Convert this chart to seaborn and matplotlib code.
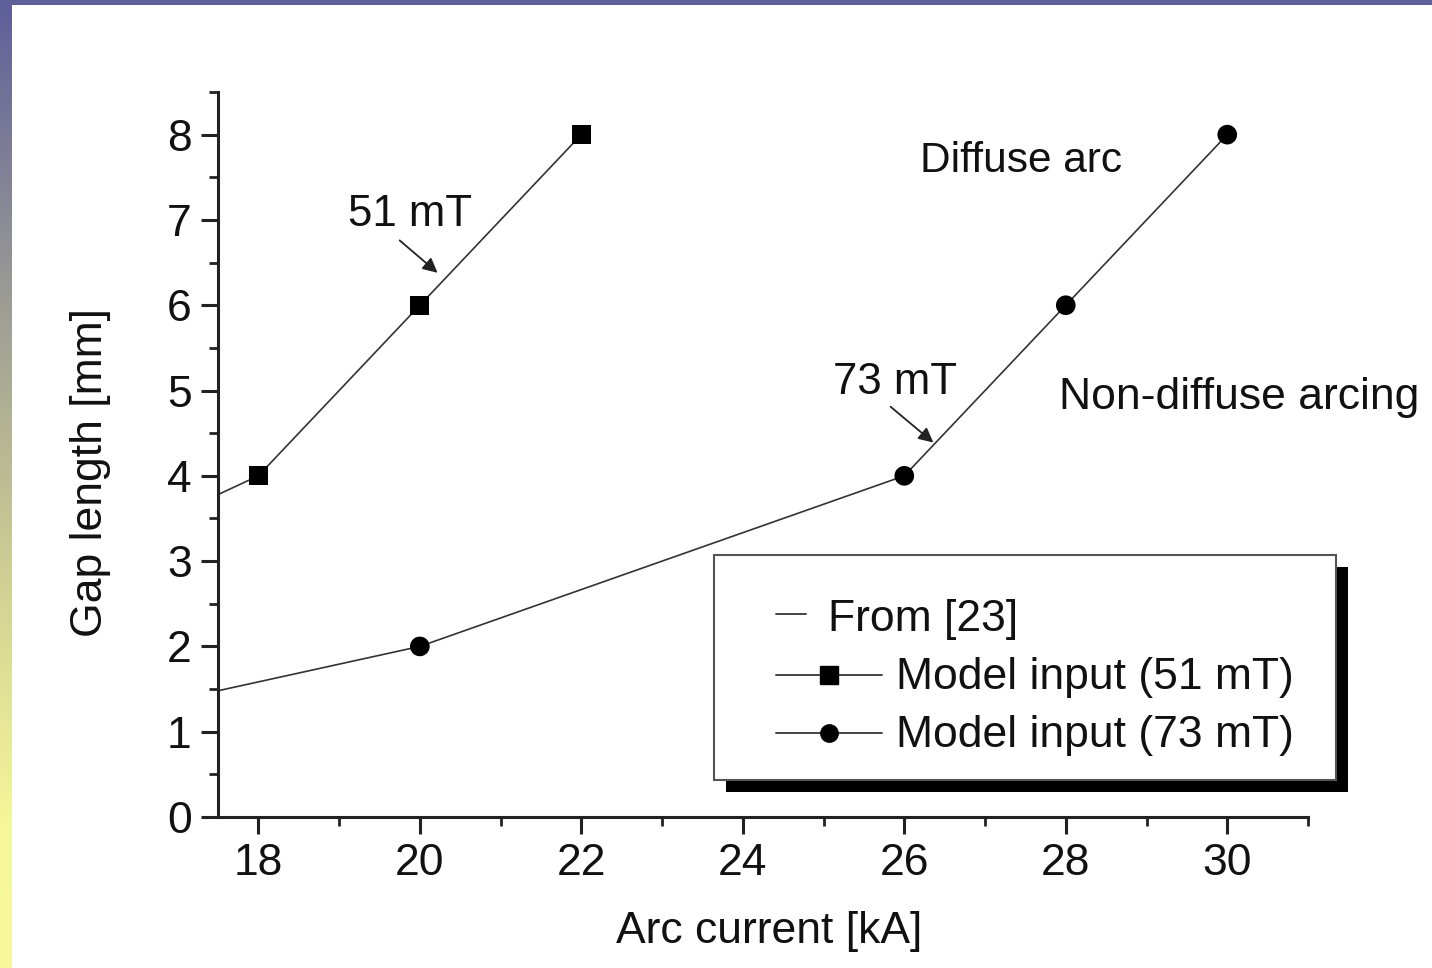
import numpy as np
import pandas as pd
import matplotlib
matplotlib.use("Agg")
import matplotlib.pyplot as plt
from matplotlib.patches import Rectangle
from matplotlib.lines import Line2D
from matplotlib.colors import LinearSegmentedColormap
import seaborn as sns

# curves from [23]
ref_51_x = [17.5, 18, 20, 22]
ref_51_y = [3.78, 4, 6, 8]
ref_73_x = [17.5, 20, 26, 28, 30]
ref_73_y = [1.48, 2, 4, 6, 8]

# model input points
model_51_x = [18, 20, 22]
model_51_y = [4, 6, 8]
model_73_x = [20, 26, 28, 30]
model_73_y = [2, 4, 6, 8]

x_ticks = [18, 20, 22, 24, 26, 28, 30]
y_ticks = [0, 1, 2, 3, 4, 5, 6, 7, 8]
legend_labels = ["From [23]", "Model input (51 mT)", "Model input (73 mT)"]

W, H = 1432, 968
INK = "#222222"
TXT = "#111111"
FS = 32

sns.set_theme(style="ticks")
plt.rcParams["font.family"] = ["Liberation Sans", "DejaVu Sans"]

fig = plt.figure(figsize=(W / 100, H / 100), dpi=100, facecolor="white")


def fx(px):
    return px / W


def fy(py):
    return 1 - py / H


# slide frame: purple top bar and gradient strip on the left
fig.patches.append(Rectangle((0, fy(5)), 1, 5 / H, transform=fig.transFigure,
                             facecolor="#5f5f9a", edgecolor="none", zorder=0))
grad_ax = fig.add_axes([0, 0, fx(12), fy(5)])
grad_ax.set_axis_off()
cmap = LinearSegmentedColormap.from_list(
    "slide", [(0, "#5f5f9a"), (0.3, "#9b9b95"), (0.62, "#d4d494"),
              (0.85, "#f6f69a"), (1, "#f8f89a")])
grad_ax.imshow(np.linspace(0, 1, 256).reshape(-1, 1), aspect="auto", cmap=cmap)

ax = fig.add_axes([fx(218), fy(817), fx(1308) - fx(218), fy(92) - fy(817)])
ax.set_facecolor("none")

for xs, ys in [(ref_51_x, ref_51_y), (ref_73_x, ref_73_y)]:
    df = pd.DataFrame({"x": xs, "y": ys})
    sns.lineplot(data=df, x="x", y="y", ax=ax, color="#333333", linewidth=1.2,
                 estimator=None, sort=False, clip_on=False)

sns.scatterplot(x=model_51_x, y=model_51_y, ax=ax, marker="s", s=190,
                color="black", edgecolor="none", zorder=5, clip_on=False)
sns.scatterplot(x=model_73_x, y=model_73_y, ax=ax, marker="o", s=200,
                color="black", edgecolor="none", zorder=5, clip_on=False)

ax.set_xlim(17.5, 31)
ax.set_ylim(0, 8.5)
ax.set_xticks(x_ticks)
ax.set_yticks(y_ticks)
ax.set_xticks(np.arange(19, 32, 2), minor=True)
ax.set_yticks(np.arange(0.5, 9, 1), minor=True)
ax.tick_params(axis="both", which="major", length=12, width=2.2, color=INK,
               labelsize=FS, labelcolor=TXT, pad=7)
ax.tick_params(axis="both", which="minor", length=6.5, width=2.0, color=INK)
sns.despine(ax=ax)
for side in ["left", "bottom"]:
    ax.spines[side].set_linewidth(2.2)
    ax.spines[side].set_color(INK)

ax.set_xlabel("Arc current [kA]", fontsize=FS, color=TXT)
ax.xaxis.label.set_va("baseline")
ax.xaxis.set_label_coords(0.506, -0.1738)
ax.set_ylabel("Gap length [mm]", fontsize=FS, color=TXT)
ax.yaxis.label.set_va("baseline")
ax.yaxis.set_label_coords(-0.1064, 0.4745)

# annotations
ax.annotate("", xy=(20.22, 6.38), xytext=(19.75, 6.76),
            arrowprops=dict(arrowstyle="-|>", color=INK, lw=1.3,
                            mutation_scale=22, shrinkA=0, shrinkB=0))
ax.text(19.88, 7.06, "51 mT", fontsize=31.5, ha="center", va="center", color=TXT)
ax.annotate("", xy=(26.36, 4.39), xytext=(25.83, 4.81),
            arrowprops=dict(arrowstyle="-|>", color=INK, lw=1.3,
                            mutation_scale=22, shrinkA=0, shrinkB=0))
ax.text(25.88, 5.09, "73 mT", fontsize=31.5, ha="center", va="center", color=TXT)
ax.text(27.45, 7.69, "Diffuse arc", fontsize=30.5, ha="center", va="center",
        color=TXT)
ax.text(30.15, 4.92, "Non-diffuse arcing", fontsize=FS, ha="center",
        va="center", color=TXT, clip_on=False)

# legend box with hard shadow
fig.patches.append(Rectangle((fx(726), fy(792)), fx(1348) - fx(726), fy(567) - fy(792),
                             transform=fig.transFigure, facecolor="black",
                             edgecolor="none", zorder=6))
fig.patches.append(Rectangle((fx(714), fy(780)), fx(1336) - fx(714), fy(555) - fy(780),
                             transform=fig.transFigure, facecolor="white",
                             edgecolor="#555555", linewidth=1.5, zorder=7))

fig.lines.append(Line2D([fx(776), fx(806)], [fy(614), fy(614)], transform=fig.transFigure,
                        color="#444444", linewidth=1.4, zorder=8))
fig.text(fx(828), fy(619), legend_labels[0], fontsize=FS, va="center", ha="left",
         color=TXT, zorder=8)
for row, (mk, lab) in enumerate(zip(["s", "o"], legend_labels[1:])):
    yy = fy(675 + 58 * row)
    fig.lines.append(Line2D([fx(776), fx(882)], [yy, yy], transform=fig.transFigure,
                            color="#444444", linewidth=1.4, zorder=8))
    fig.lines.append(Line2D([fx(829)], [yy], transform=fig.transFigure, marker=mk,
                            markersize=12.5, color="black", linestyle="none", zorder=9))
    fig.text(fx(896), fy(677 + 58 * row), lab, fontsize=FS, va="center", ha="left",
             color=TXT, zorder=8)

fig.savefig("out.png", dpi=100, facecolor=fig.get_facecolor())
plt.close(fig)
